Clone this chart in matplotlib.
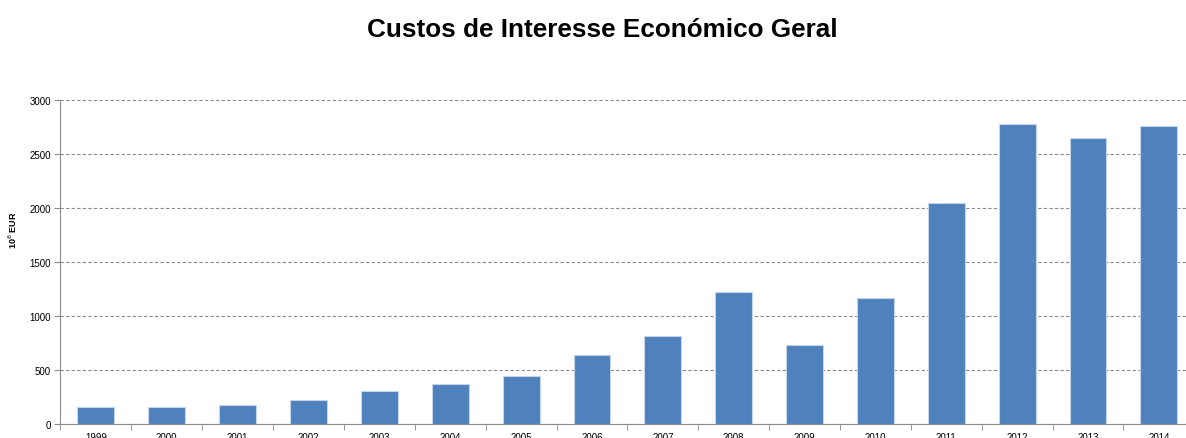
import matplotlib.pyplot as plt
import numpy as np

plt.rcParams['font.family'] = ['Liberation Sans', 'DejaVu Sans']

years = ['1999', '2000', '2001', '2002', '2003', '2004', '2005', '2006',
         '2007', '2008', '2009', '2010', '2011', '2012', '2013', '2014']
custos = [157, 155, 172, 222, 305, 368, 442, 638,
          812, 1222, 731, 1163, 2042, 2780, 2646, 2757]

fig = plt.figure(figsize=(11.86, 4.39), dpi=100)
ax = fig.add_axes([0.051, 0.032, 0.956, 0.738])

x = np.arange(len(years))
ax.bar(x, custos, width=0.52, color='#4F81BD', edgecolor='#C6D6EA', linewidth=0.8, zorder=3)

ax.set_xlim(-0.5, len(years) - 0.5)
ax.set_ylim(0, 3000)
ax.set_yticks(np.arange(0, 3001, 500))
ax.yaxis.grid(True, linestyle=(0, (3, 2)), color='#8C8C8C', linewidth=0.8, zorder=0)

ax.set_xticks(x)
ax.set_xticklabels(years, fontsize=7)
ax.set_xticks(np.arange(-0.5, len(years), 1), minor=True)
ax.tick_params(axis='x', which='major', length=0, pad=6)
ax.tick_params(axis='x', which='minor', length=4, color='#8C8C8C', direction='out')
ax.tick_params(axis='y', labelsize=7, length=4, color='#8C8C8C', pad=3)

for s in ['top', 'right']:
    ax.spines[s].set_visible(False)
for s in ['left', 'bottom']:
    ax.spines[s].set_color('#8C8C8C')

# rótulo do eixo y colocado à mão, como no Excel
fig.text(13 / 1186, 1 - 230 / 439, '10$^6$ EUR', rotation=90, ha='center', va='center',
         fontsize=6.5, fontweight='bold')

fig.text(602 / 1186, 0.932, 'Custos de Interesse Económico Geral', ha='center', va='center',
         fontsize=18.8, fontweight='bold')

fig.savefig('out.png', dpi=100)
